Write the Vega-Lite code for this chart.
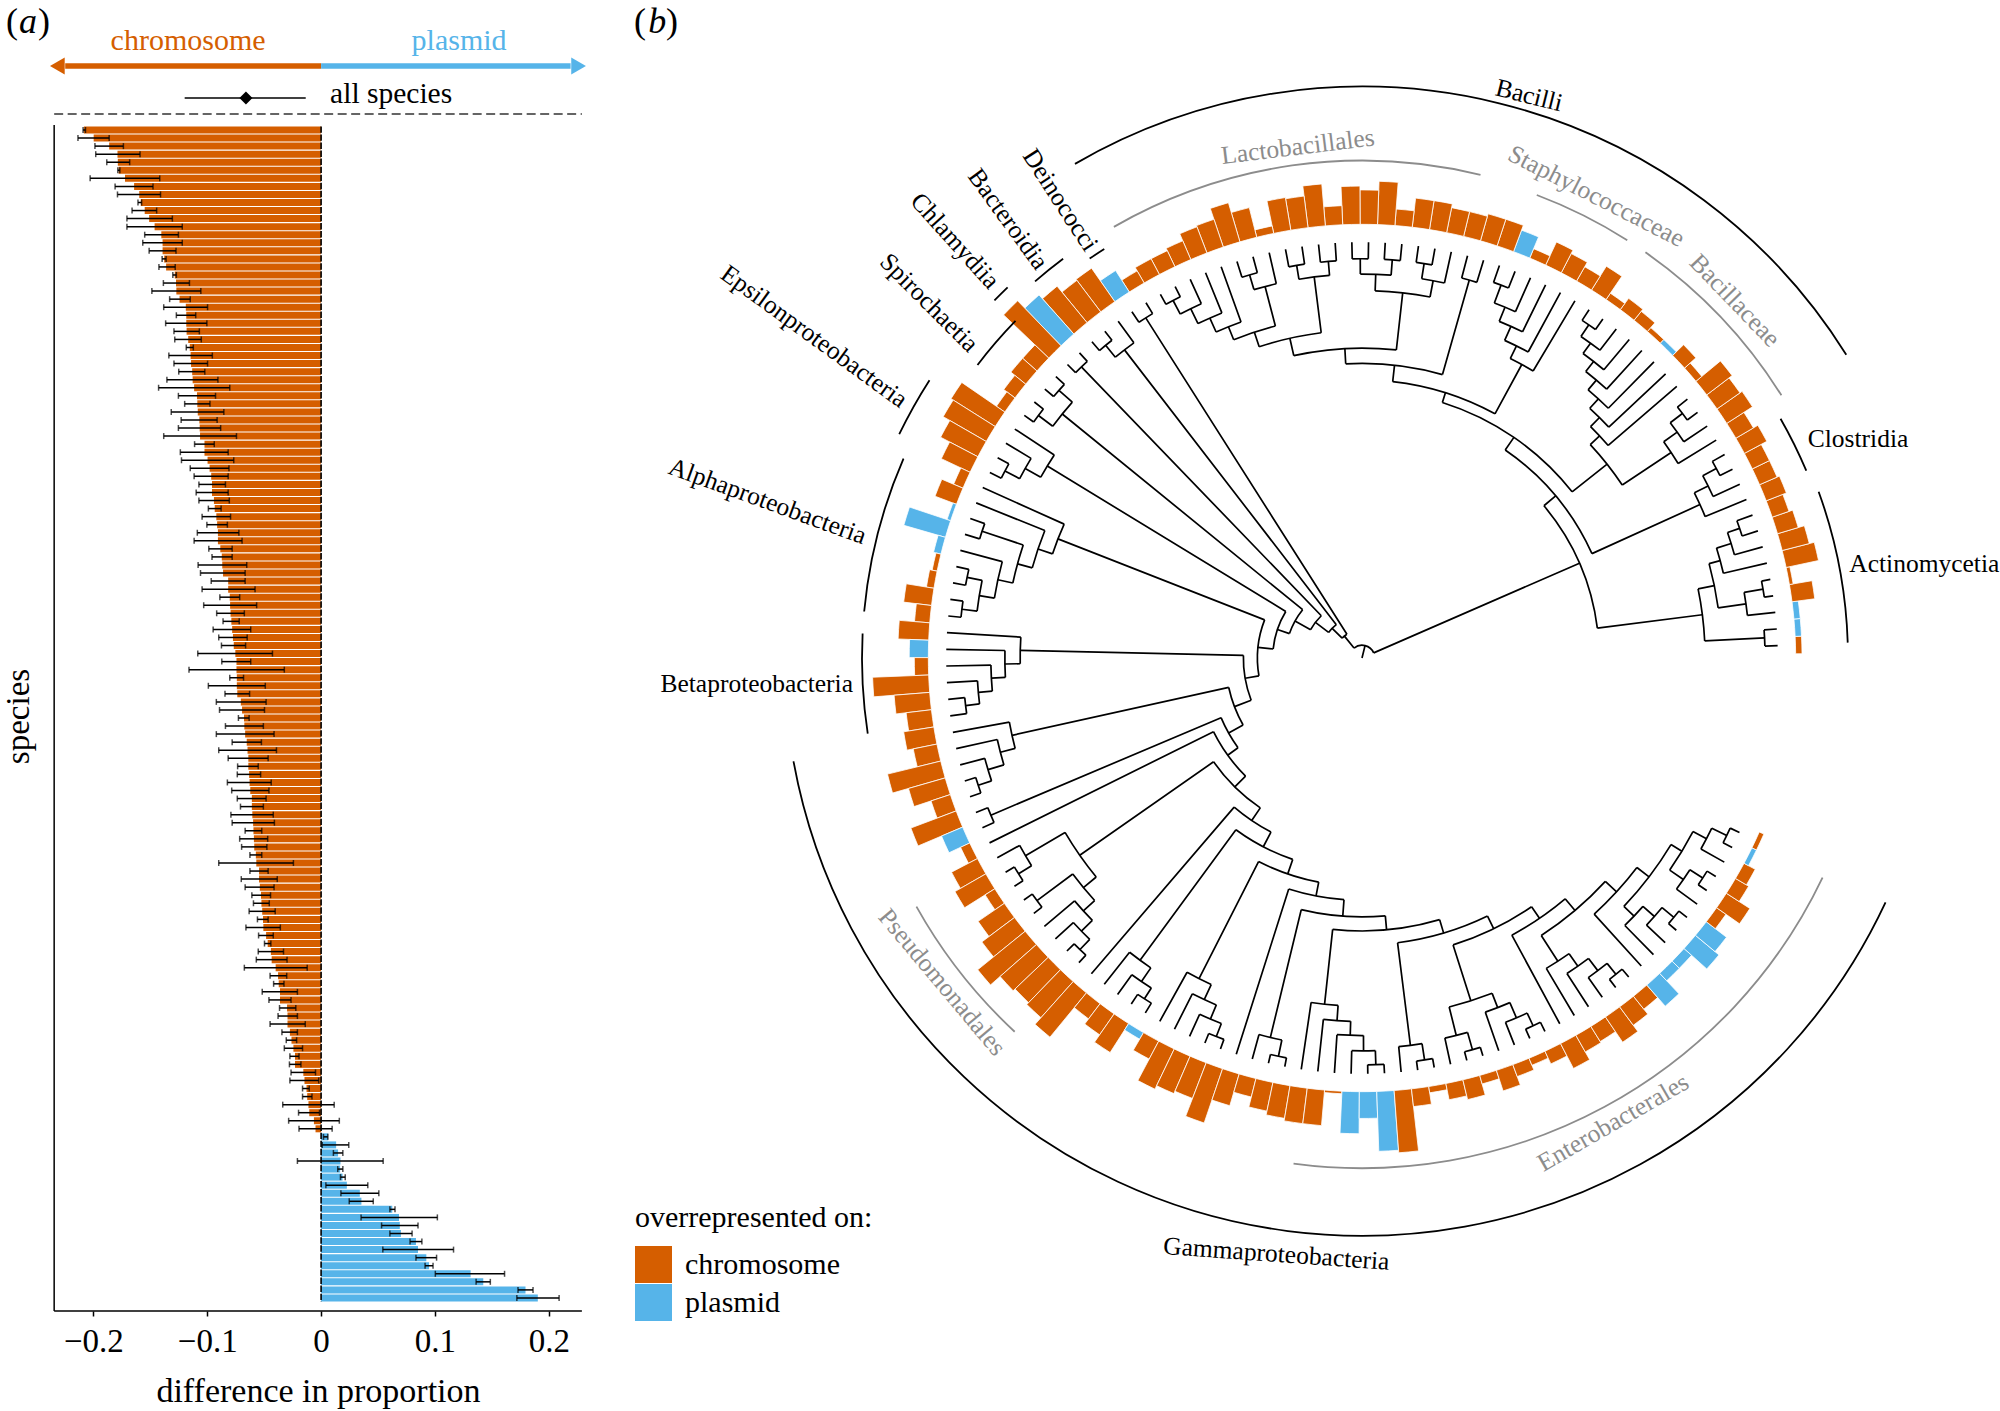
{"$schema":"https://vega.github.io/schema/vega-lite/v6.json","padding":0,"background":"white","bounds":"flush","spacing":18,"config":{"view":{"stroke":null},"font":"Liberation Serif","axis":{"grid":false}},"resolve":{"scale":{"color":"independent"}},
"datasets":{
"species":[
{"r":1,"d":-0.2083,"lo":-0.2090,"hi":-0.2069,"c":"chromosome"},{"r":2,"d":-0.1997,"lo":-0.2135,"hi":-0.1861,"c":"chromosome"},{"r":3,"d":-0.1861,"lo":-0.1986,"hi":-0.1736,"c":"chromosome"},{"r":4,"d":-0.1788,"lo":-0.1979,"hi":-0.1590,"c":"chromosome"},{"r":5,"d":-0.1785,"lo":-0.1882,"hi":-0.1681,"c":"chromosome"},{"r":6,"d":-0.1778,"lo":-0.1785,"hi":-0.1767,"c":"chromosome"},{"r":7,"d":-0.1722,"lo":-0.2028,"hi":-0.1417,"c":"chromosome"},{"r":8,"d":-0.1642,"lo":-0.1809,"hi":-0.1476,"c":"chromosome"},{"r":9,"d":-0.1597,"lo":-0.1788,"hi":-0.1410,"c":"chromosome"},{"r":10,"d":-0.1583,"lo":-0.1608,"hi":-0.1576,"c":"chromosome"},
{"r":11,"d":-0.1549,"lo":-0.1660,"hi":-0.1444,"c":"chromosome"},{"r":12,"d":-0.1510,"lo":-0.1705,"hi":-0.1306,"c":"chromosome"},{"r":13,"d":-0.1462,"lo":-0.1705,"hi":-0.1219,"c":"chromosome"},{"r":14,"d":-0.1403,"lo":-0.1549,"hi":-0.1253,"c":"chromosome"},{"r":15,"d":-0.1392,"lo":-0.1566,"hi":-0.1219,"c":"chromosome"},{"r":16,"d":-0.1392,"lo":-0.1510,"hi":-0.1274,"c":"chromosome"},{"r":17,"d":-0.1378,"lo":-0.1396,"hi":-0.1361,"c":"chromosome"},{"r":18,"d":-0.1361,"lo":-0.1424,"hi":-0.1281,"c":"chromosome"},{"r":19,"d":-0.1285,"lo":-0.1302,"hi":-0.1271,"c":"chromosome"},{"r":20,"d":-0.1274,"lo":-0.1385,"hi":-0.1156,"c":"chromosome"},
{"r":21,"d":-0.1271,"lo":-0.1486,"hi":-0.1056,"c":"chromosome"},{"r":22,"d":-0.1243,"lo":-0.1330,"hi":-0.1149,"c":"chromosome"},{"r":23,"d":-0.1188,"lo":-0.1382,"hi":-0.0997,"c":"chromosome"},{"r":24,"d":-0.1184,"lo":-0.1271,"hi":-0.1101,"c":"chromosome"},{"r":25,"d":-0.1184,"lo":-0.1365,"hi":-0.1003,"c":"chromosome"},{"r":26,"d":-0.1181,"lo":-0.1292,"hi":-0.1069,"c":"chromosome"},{"r":27,"d":-0.1167,"lo":-0.1285,"hi":-0.1052,"c":"chromosome"},{"r":28,"d":-0.1153,"lo":-0.1184,"hi":-0.1122,"c":"chromosome"},{"r":29,"d":-0.1146,"lo":-0.1337,"hi":-0.0955,"c":"chromosome"},{"r":30,"d":-0.1142,"lo":-0.1292,"hi":-0.0997,"c":"chromosome"},
{"r":31,"d":-0.1132,"lo":-0.1250,"hi":-0.1021,"c":"chromosome"},{"r":32,"d":-0.1128,"lo":-0.1354,"hi":-0.0906,"c":"chromosome"},{"r":33,"d":-0.1115,"lo":-0.1427,"hi":-0.0802,"c":"chromosome"},{"r":34,"d":-0.1090,"lo":-0.1253,"hi":-0.0927,"c":"chromosome"},{"r":35,"d":-0.1087,"lo":-0.1198,"hi":-0.0976,"c":"chromosome"},{"r":36,"d":-0.1083,"lo":-0.1316,"hi":-0.0854,"c":"chromosome"},{"r":37,"d":-0.1069,"lo":-0.1229,"hi":-0.0913,"c":"chromosome"},{"r":38,"d":-0.1066,"lo":-0.1253,"hi":-0.0882,"c":"chromosome"},{"r":39,"d":-0.1063,"lo":-0.1382,"hi":-0.0743,"c":"chromosome"},{"r":40,"d":-0.1024,"lo":-0.1111,"hi":-0.0938,"c":"chromosome"},
{"r":41,"d":-0.1024,"lo":-0.1236,"hi":-0.0816,"c":"chromosome"},{"r":42,"d":-0.0997,"lo":-0.1226,"hi":-0.0767,"c":"chromosome"},{"r":43,"d":-0.0979,"lo":-0.1149,"hi":-0.0809,"c":"chromosome"},{"r":44,"d":-0.0965,"lo":-0.1115,"hi":-0.0816,"c":"chromosome"},{"r":45,"d":-0.0958,"lo":-0.1073,"hi":-0.0840,"c":"chromosome"},{"r":46,"d":-0.0958,"lo":-0.1097,"hi":-0.0816,"c":"chromosome"},{"r":47,"d":-0.0941,"lo":-0.1073,"hi":-0.0806,"c":"chromosome"},{"r":48,"d":-0.0934,"lo":-0.0990,"hi":-0.0878,"c":"chromosome"},{"r":49,"d":-0.0920,"lo":-0.1045,"hi":-0.0795,"c":"chromosome"},{"r":50,"d":-0.0913,"lo":-0.1003,"hi":-0.0823,"c":"chromosome"},
{"r":51,"d":-0.0906,"lo":-0.1087,"hi":-0.0722,"c":"chromosome"},{"r":52,"d":-0.0906,"lo":-0.1115,"hi":-0.0694,"c":"chromosome"},{"r":53,"d":-0.0885,"lo":-0.0986,"hi":-0.0781,"c":"chromosome"},{"r":54,"d":-0.0872,"lo":-0.0958,"hi":-0.0781,"c":"chromosome"},{"r":55,"d":-0.0868,"lo":-0.1080,"hi":-0.0653,"c":"chromosome"},{"r":56,"d":-0.0861,"lo":-0.1059,"hi":-0.0667,"c":"chromosome"},{"r":57,"d":-0.0816,"lo":-0.0965,"hi":-0.0667,"c":"chromosome"},{"r":58,"d":-0.0816,"lo":-0.1045,"hi":-0.0580,"c":"chromosome"},{"r":59,"d":-0.0802,"lo":-0.0889,"hi":-0.0715,"c":"chromosome"},{"r":60,"d":-0.0799,"lo":-0.1031,"hi":-0.0566,"c":"chromosome"},
{"r":61,"d":-0.0795,"lo":-0.0917,"hi":-0.0674,"c":"chromosome"},{"r":62,"d":-0.0788,"lo":-0.0861,"hi":-0.0719,"c":"chromosome"},{"r":63,"d":-0.0781,"lo":-0.0948,"hi":-0.0618,"c":"chromosome"},{"r":64,"d":-0.0774,"lo":-0.0899,"hi":-0.0649,"c":"chromosome"},{"r":65,"d":-0.0767,"lo":-0.0875,"hi":-0.0663,"c":"chromosome"},{"r":66,"d":-0.0753,"lo":-0.1083,"hi":-0.0427,"c":"chromosome"},{"r":67,"d":-0.0743,"lo":-0.0872,"hi":-0.0618,"c":"chromosome"},{"r":68,"d":-0.0743,"lo":-0.1160,"hi":-0.0323,"c":"chromosome"},{"r":69,"d":-0.0740,"lo":-0.0802,"hi":-0.0681,"c":"chromosome"},{"r":70,"d":-0.0740,"lo":-0.0990,"hi":-0.0490,"c":"chromosome"},
{"r":71,"d":-0.0736,"lo":-0.0844,"hi":-0.0628,"c":"chromosome"},{"r":72,"d":-0.0705,"lo":-0.0920,"hi":-0.0483,"c":"chromosome"},{"r":73,"d":-0.0694,"lo":-0.0892,"hi":-0.0497,"c":"chromosome"},{"r":74,"d":-0.0677,"lo":-0.0726,"hi":-0.0632,"c":"chromosome"},{"r":75,"d":-0.0674,"lo":-0.0840,"hi":-0.0507,"c":"chromosome"},{"r":76,"d":-0.0667,"lo":-0.0920,"hi":-0.0413,"c":"chromosome"},{"r":77,"d":-0.0653,"lo":-0.0781,"hi":-0.0524,"c":"chromosome"},{"r":78,"d":-0.0646,"lo":-0.0899,"hi":-0.0392,"c":"chromosome"},{"r":79,"d":-0.0639,"lo":-0.0816,"hi":-0.0465,"c":"chromosome"},{"r":80,"d":-0.0639,"lo":-0.0733,"hi":-0.0552,"c":"chromosome"},
{"r":81,"d":-0.0632,"lo":-0.0736,"hi":-0.0531,"c":"chromosome"},{"r":82,"d":-0.0628,"lo":-0.0823,"hi":-0.0438,"c":"chromosome"},{"r":83,"d":-0.0622,"lo":-0.0785,"hi":-0.0458,"c":"chromosome"},{"r":84,"d":-0.0608,"lo":-0.0736,"hi":-0.0483,"c":"chromosome"},{"r":85,"d":-0.0608,"lo":-0.0708,"hi":-0.0507,"c":"chromosome"},{"r":86,"d":-0.0604,"lo":-0.0792,"hi":-0.0420,"c":"chromosome"},{"r":87,"d":-0.0597,"lo":-0.0781,"hi":-0.0410,"c":"chromosome"},{"r":88,"d":-0.0594,"lo":-0.0667,"hi":-0.0521,"c":"chromosome"},{"r":89,"d":-0.0590,"lo":-0.0715,"hi":-0.0469,"c":"chromosome"},{"r":90,"d":-0.0587,"lo":-0.0698,"hi":-0.0476,"c":"chromosome"},
{"r":91,"d":-0.0573,"lo":-0.0625,"hi":-0.0521,"c":"chromosome"},{"r":92,"d":-0.0569,"lo":-0.0899,"hi":-0.0243,"c":"chromosome"},{"r":93,"d":-0.0545,"lo":-0.0625,"hi":-0.0465,"c":"chromosome"},{"r":94,"d":-0.0545,"lo":-0.0701,"hi":-0.0385,"c":"chromosome"},{"r":95,"d":-0.0538,"lo":-0.0667,"hi":-0.0413,"c":"chromosome"},{"r":96,"d":-0.0528,"lo":-0.0608,"hi":-0.0444,"c":"chromosome"},{"r":97,"d":-0.0524,"lo":-0.0594,"hi":-0.0455,"c":"chromosome"},{"r":98,"d":-0.0517,"lo":-0.0632,"hi":-0.0403,"c":"chromosome"},{"r":99,"d":-0.0510,"lo":-0.0559,"hi":-0.0465,"c":"chromosome"},{"r":100,"d":-0.0507,"lo":-0.0660,"hi":-0.0358,"c":"chromosome"},
{"r":101,"d":-0.0483,"lo":-0.0549,"hi":-0.0420,"c":"chromosome"},{"r":102,"d":-0.0469,"lo":-0.0497,"hi":-0.0441,"c":"chromosome"},{"r":103,"d":-0.0441,"lo":-0.0552,"hi":-0.0330,"c":"chromosome"},{"r":104,"d":-0.0434,"lo":-0.0569,"hi":-0.0299,"c":"chromosome"},{"r":105,"d":-0.0399,"lo":-0.0674,"hi":-0.0122,"c":"chromosome"},{"r":106,"d":-0.0378,"lo":-0.0448,"hi":-0.0302,"c":"chromosome"},{"r":107,"d":-0.0372,"lo":-0.0417,"hi":-0.0326,"c":"chromosome"},{"r":108,"d":-0.0361,"lo":-0.0517,"hi":-0.0208,"c":"chromosome"},{"r":109,"d":-0.0361,"lo":-0.0458,"hi":-0.0264,"c":"chromosome"},{"r":110,"d":-0.0299,"lo":-0.0365,"hi":-0.0222,"c":"chromosome"},
{"r":111,"d":-0.0295,"lo":-0.0378,"hi":-0.0208,"c":"chromosome"},{"r":112,"d":-0.0295,"lo":-0.0448,"hi":-0.0139,"c":"chromosome"},{"r":113,"d":-0.0274,"lo":-0.0344,"hi":-0.0208,"c":"chromosome"},{"r":114,"d":-0.0260,"lo":-0.0306,"hi":-0.0215,"c":"chromosome"},{"r":115,"d":-0.0243,"lo":-0.0323,"hi":-0.0163,"c":"chromosome"},{"r":116,"d":-0.0229,"lo":-0.0274,"hi":-0.0194,"c":"chromosome"},{"r":117,"d":-0.0229,"lo":-0.0278,"hi":-0.0177,"c":"chromosome"},{"r":118,"d":-0.0156,"lo":-0.0264,"hi":-0.0049,"c":"chromosome"},{"r":119,"d":-0.0146,"lo":-0.0274,"hi":-0.0021,"c":"chromosome"},{"r":120,"d":-0.0128,"lo":-0.0163,"hi":-0.0104,"c":"chromosome"},
{"r":121,"d":-0.0122,"lo":-0.0163,"hi":-0.0080,"c":"chromosome"},{"r":122,"d":-0.0111,"lo":-0.0337,"hi":0.0115,"c":"chromosome"},{"r":123,"d":-0.0104,"lo":-0.0198,"hi":-0.0014,"c":"chromosome"},{"r":124,"d":-0.0063,"lo":-0.0285,"hi":0.0160,"c":"chromosome"},{"r":125,"d":-0.0049,"lo":-0.0194,"hi":0.0097,"c":"chromosome"},
{"r":126,"d":0.0063,"lo":0.0021,"hi":0.0059,"c":"plasmid"},{"r":127,"d":0.0132,"lo":0.0010,"hi":0.0243,"c":"plasmid"},{"r":128,"d":0.0149,"lo":0.0108,"hi":0.0191,"c":"plasmid"},{"r":129,"d":0.0170,"lo":-0.0208,"hi":0.0545,"c":"plasmid"},{"r":130,"d":0.0167,"lo":0.0146,"hi":0.0191,"c":"plasmid"},{"r":131,"d":0.0188,"lo":0.0170,"hi":0.0212,"c":"plasmid"},{"r":132,"d":0.0226,"lo":0.0042,"hi":0.0410,"c":"plasmid"},{"r":133,"d":0.0340,"lo":0.0174,"hi":0.0507,"c":"plasmid"},{"r":134,"d":0.0354,"lo":0.0247,"hi":0.0458,"c":"plasmid"},{"r":135,"d":0.0625,"lo":0.0604,"hi":0.0649,"c":"plasmid"},
{"r":136,"d":0.0684,"lo":0.0351,"hi":0.1021,"c":"plasmid"},{"r":137,"d":0.0691,"lo":0.0531,"hi":0.0851,"c":"plasmid"},{"r":138,"d":0.0701,"lo":0.0604,"hi":0.0799,"c":"plasmid"},{"r":139,"d":0.0833,"lo":0.0781,"hi":0.0885,"c":"plasmid"},{"r":140,"d":0.0851,"lo":0.0542,"hi":0.1163,"c":"plasmid"},{"r":141,"d":0.0924,"lo":0.0833,"hi":0.1014,"c":"plasmid"},{"r":142,"d":0.0948,"lo":0.0913,"hi":0.0983,"c":"plasmid"},{"r":143,"d":0.1313,"lo":0.1003,"hi":0.1611,"c":"plasmid"},{"r":144,"d":0.1424,"lo":0.1361,"hi":0.1486,"c":"plasmid"},{"r":145,"d":0.1795,"lo":0.1729,"hi":0.1861,"c":"plasmid"},{"r":146,"d":0.1903,"lo":0.1719,"hi":0.2090,"c":"plasmid"}
],
"tips":[
{"a":0.5,"b":1.5,"o":345,"c":"chromosome"},{"a":1.5,"b":2.5,"o":345,"c":"plasmid"},{"a":2.5,"b":3.5,"o":345,"c":"plasmid"},{"a":3.5,"b":4.5,"o":358,"c":"chromosome"},{"a":4.5,"b":5.5,"o":343,"c":"chromosome"},{"a":5.5,"b":6.5,"o":366,"c":"chromosome"},{"a":6.5,"b":7.5,"o":362,"c":"chromosome"},{"a":7.5,"b":8.5,"o":357,"c":"chromosome"},{"a":8.5,"b":9.5,"o":354,"c":"chromosome"},{"a":9.5,"b":10.5,"o":357,"c":"chromosome"},
{"a":10.5,"b":11.5,"o":355,"c":"chromosome"},{"a":11.5,"b":12.5,"o":355,"c":"chromosome"},{"a":12.5,"b":13.5,"o":360,"c":"chromosome"},{"a":13.5,"b":14.5,"o":356,"c":"chromosome"},{"a":14.5,"b":15.5,"o":364,"c":"chromosome"},{"a":15.5,"b":16.5,"o":362,"c":"chromosome"},{"a":16.5,"b":17.5,"o":365,"c":"chromosome"},{"a":17.5,"b":18.5,"o":346,"c":"chromosome"},{"a":18.5,"b":19.5,"o":352,"c":"chromosome"},{"a":19.5,"b":20.5,"o":344,"c":"plasmid"},
{"a":20.5,"b":21.5,"o":344,"c":"chromosome"},{"a":21.5,"b":22.5,"o":349,"c":"chromosome"},{"a":22.5,"b":23.5,"o":351,"c":"chromosome"},{"a":23.5,"b":24.5,"o":346,"c":"chromosome"},{"a":24.5,"b":25.5,"o":362,"c":"chromosome"},{"a":25.5,"b":26.5,"o":353,"c":"chromosome"},{"a":26.5,"b":27.5,"o":357,"c":"chromosome"},{"a":27.5,"b":28.5,"o":360,"c":"chromosome"},{"a":28.5,"b":29.5,"o":348,"c":"chromosome"},{"a":29.5,"b":30.5,"o":358,"c":"plasmid"},
{"a":30.5,"b":31.5,"o":362,"c":"chromosome"},{"a":31.5,"b":32.5,"o":362,"c":"chromosome"},{"a":32.5,"b":33.5,"o":360,"c":"chromosome"},{"a":33.5,"b":34.5,"o":360,"c":"chromosome"},{"a":34.5,"b":35.5,"o":363,"c":"chromosome"},{"a":35.5,"b":36.5,"o":363,"c":"chromosome"},{"a":36.5,"b":37.5,"o":353,"c":"chromosome"},{"a":37.5,"b":38.5,"o":374,"c":"chromosome"},{"a":38.5,"b":39.5,"o":367,"c":"chromosome"},{"a":39.5,"b":40.5,"o":370,"c":"chromosome"},
{"a":40.5,"b":41.5,"o":355,"c":"chromosome"},{"a":41.5,"b":42.5,"o":373,"c":"chromosome"},{"a":42.5,"b":43.5,"o":365,"c":"chromosome"},{"a":43.5,"b":44.5,"o":366,"c":"chromosome"},{"a":44.5,"b":45.5,"o":346,"c":"chromosome"},{"a":45.5,"b":46.5,"o":364,"c":"chromosome"},{"a":46.5,"b":47.5,"o":372,"c":"chromosome"},{"a":47.5,"b":48.5,"o":363,"c":"chromosome"},{"a":48.5,"b":49.5,"o":362,"c":"chromosome"},{"a":49.5,"b":50.5,"o":356,"c":"chromosome"},
{"a":50.5,"b":51.5,"o":354,"c":"chromosome"},{"a":51.5,"b":52.5,"o":354,"c":"chromosome"},{"a":52.5,"b":53.5,"o":351,"c":"chromosome"},{"a":53.5,"b":54.5,"o":360,"c":"plasmid"},{"a":54.5,"b":55.5,"o":372,"c":"chromosome"},{"a":55.5,"b":56.5,"o":371,"c":"chromosome"},{"a":56.5,"b":57.5,"o":377,"c":"chromosome"},{"a":57.5,"b":58.5,"o":381,"c":"plasmid"},{"a":58.5,"b":59.5,"o":389,"c":"chromosome"},{"a":59.5,"b":60.5,"o":355,"c":"chromosome"},
{"a":60.5,"b":61.5,"o":355,"c":"chromosome"},{"a":61.5,"b":62.5,"o":351,"c":"chromosome"},{"a":62.5,"b":63.5,"o":348,"c":"chromosome"},{"a":63.5,"b":64.5,"o":381,"c":"chromosome"},{"a":64.5,"b":65.5,"o":379,"c":"chromosome"},{"a":65.5,"b":66.5,"o":373,"c":"chromosome"},{"a":66.5,"b":67.5,"o":365,"c":"chromosome"},{"a":67.5,"b":68.5,"o":348,"c":"chromosome"},{"a":68.5,"b":69.5,"o":358,"c":"chromosome"},{"a":69.5,"b":70.5,"o":343,"c":"plasmid"},
{"a":70.5,"b":71.5,"o":374,"c":"plasmid"},{"a":71.5,"b":72.5,"o":346,"c":"plasmid"},{"a":72.5,"b":73.5,"o":344,"c":"chromosome"},{"a":73.5,"b":74.5,"o":346,"c":"chromosome"},{"a":74.5,"b":75.5,"o":362,"c":"chromosome"},{"a":75.5,"b":76.5,"o":352,"c":"chromosome"},{"a":76.5,"b":77.5,"o":364,"c":"chromosome"},{"a":77.5,"b":78.5,"o":355,"c":"plasmid"},{"a":78.5,"b":79.5,"o":351,"c":"chromosome"},{"a":79.5,"b":80.5,"o":384,"c":"chromosome"},
{"a":80.5,"b":81.5,"o":368,"c":"chromosome"},{"a":81.5,"b":82.5,"o":360,"c":"chromosome"},{"a":82.5,"b":83.5,"o":364,"c":"chromosome"},{"a":83.5,"b":84.5,"o":359,"c":"chromosome"},{"a":84.5,"b":85.5,"o":383,"c":"chromosome"},{"a":85.5,"b":86.5,"o":370,"c":"chromosome"},{"a":86.5,"b":87.5,"o":356,"c":"chromosome"},{"a":87.5,"b":88.5,"o":378,"c":"chromosome"},{"a":88.5,"b":89.5,"o":358,"c":"plasmid"},{"a":89.5,"b":90.5,"o":348,"c":"chromosome"},
{"a":90.5,"b":91.5,"o":363,"c":"chromosome"},{"a":91.5,"b":92.5,"o":368,"c":"chromosome"},{"a":92.5,"b":93.5,"o":349,"c":"chromosome"},{"a":93.5,"b":94.5,"o":365,"c":"chromosome"},{"a":94.5,"b":95.5,"o":372,"c":"chromosome"},{"a":95.5,"b":96.5,"o":388,"c":"chromosome"},{"a":96.5,"b":97.5,"o":378,"c":"chromosome"},{"a":97.5,"b":98.5,"o":376,"c":"chromosome"},{"a":98.5,"b":99.5,"o":378,"c":"chromosome"},{"a":99.5,"b":100.5,"o":385,"c":"chromosome"},
{"a":100.5,"b":101.5,"o":355,"c":"chromosome"},{"a":101.5,"b":102.5,"o":360,"c":"chromosome"},{"a":102.5,"b":103.5,"o":367,"c":"chromosome"},{"a":103.5,"b":104.5,"o":346,"c":"plasmid"},{"a":104.5,"b":105.5,"o":356,"c":"chromosome"},{"a":105.5,"b":106.5,"o":375,"c":"chromosome"},{"a":106.5,"b":107.5,"o":372,"c":"chromosome"},{"a":107.5,"b":108.5,"o":370,"c":"chromosome"},{"a":108.5,"b":109.5,"o":385,"c":"chromosome"},{"a":109.5,"b":110.5,"o":366,"c":"chromosome"},
{"a":110.5,"b":111.5,"o":355,"c":"chromosome"},{"a":111.5,"b":112.5,"o":363,"c":"chromosome"},{"a":112.5,"b":113.5,"o":366,"c":"chromosome"},{"a":113.5,"b":114.5,"o":368,"c":"chromosome"},{"a":114.5,"b":115.5,"o":368,"c":"chromosome"},{"a":115.5,"b":116.5,"o":342,"c":"chromosome"},{"a":116.5,"b":117.5,"o":373,"c":"plasmid"},{"a":117.5,"b":118.5,"o":361,"c":"plasmid"},{"a":118.5,"b":119.5,"o":387,"c":"plasmid"},{"a":119.5,"b":120.5,"o":389,"c":"chromosome"},
{"a":120.5,"b":121.5,"o":354,"c":"chromosome"},{"a":121.5,"b":122.5,"o":345,"c":"chromosome"},{"a":122.5,"b":123.5,"o":353,"c":"chromosome"},{"a":123.5,"b":124.5,"o":356,"c":"chromosome"},{"a":124.5,"b":125.5,"o":347,"c":"chromosome"},{"a":125.5,"b":126.5,"o":357,"c":"chromosome"},{"a":126.5,"b":127.5,"o":350,"c":"chromosome"},{"a":127.5,"b":128.5,"o":346,"c":"chromosome"},{"a":128.5,"b":129.5,"o":351,"c":"chromosome"},{"a":129.5,"b":130.5,"o":362,"c":"chromosome"},
{"a":130.5,"b":131.5,"o":355,"c":"chromosome"},{"a":131.5,"b":132.5,"o":354,"c":"chromosome"},{"a":132.5,"b":133.5,"o":364,"c":"chromosome"},{"a":133.5,"b":134.5,"o":358,"c":"chromosome"},{"a":134.5,"b":135.5,"o":353,"c":"chromosome"},{"a":135.5,"b":136.5,"o":362,"c":"plasmid"},{"a":136.5,"b":137.5,"o":348,"c":"plasmid"},{"a":137.5,"b":138.5,"o":348,"c":"plasmid"},{"a":138.5,"b":139.5,"o":364,"c":"plasmid"},{"a":139.5,"b":140.5,"o":360,"c":"plasmid"},
{"a":140.5,"b":141.5,"o":349,"c":"chromosome"},{"a":141.5,"b":142.5,"o":362,"c":"chromosome"},{"a":142.5,"b":143.5,"o":352,"c":"chromosome"},{"a":143.5,"b":144.5,"o":350,"c":"chromosome"},{"a":144.5,"b":145.5,"o":344,"c":"plasmid"},{"a":145.5,"b":146.5,"o":344,"c":"chromosome"}
],
"tree":[
{"n":1,"r":326,"p":316},{"n":2,"r":326,"p":316},{"n":3,"r":326,"p":304},{"n":4,"r":326,"p":319},{"n":5,"r":326,"p":319},{"n":6,"r":326,"p":291},{"n":7,"r":326,"p":303},{"n":8,"r":326,"p":313},{"n":9,"r":326,"p":313},{"n":10,"r":326,"p":291},{"n":11,"r":326,"p":303},{"n":12,"r":326,"p":315},{"n":13,"r":326,"p":315},{"n":14,"r":326,"p":291},{"n":15,"r":326,"p":304},{"n":16,"r":326,"p":316},{"n":17,"r":326,"p":316},{"n":18,"r":326,"p":255},{"n":19,"r":326,"p":265},{"n":20,"r":326,"p":275},{"n":21,"r":326,"p":285},{"n":22,"r":326,"p":295},{"n":23,"r":326,"p":305},{"n":24,"r":326,"p":316},{"n":25,"r":326,"p":316},{"n":26,"r":326,"p":262},{"n":27,"r":326,"p":273},{"n":28,"r":326,"p":285},{"n":29,"r":326,"p":297},{"n":30,"r":326,"p":312},{"n":31,"r":326,"p":312},{"n":32,"r":326,"p":308},{"n":33,"r":326,"p":308},{"n":34,"r":326,"p":301},{"n":35,"r":326,"p":313},{"n":36,"r":326,"p":313},{"n":37,"r":326,"p":313},{"n":38,"r":326,"p":313},{"n":39,"r":326,"p":313},{"n":40,"r":326,"p":313},{"n":41,"r":326,"p":312},{"n":42,"r":326,"p":312},{"n":43,"r":326,"p":312},{"n":44,"r":326,"p":312},{"n":45,"r":326,"p":301},{"n":46,"r":326,"p":313},{"n":47,"r":326,"p":313},{"n":48,"r":326,"p":280},{"n":49,"r":326,"p":292},{"n":50,"r":326,"p":305},{"n":51,"r":326,"p":317},{"n":52,"r":326,"p":317},{"n":53,"r":326,"p":316},{"n":54,"r":326,"p":316},{"n":55,"r":326,"p":305},{"n":56,"r":326,"p":317},{"n":57,"r":326,"p":317},{"n":58,"r":326,"p":317},{"n":59,"r":326,"p":317},{"n":60,"r":326,"p":317},{"n":61,"r":326,"p":317},{"n":62,"r":326,"p":317},{"n":63,"r":326,"p":317},{"n":64,"r":326,"p":289},{"n":65,"r":326,"p":303},{"n":66,"r":326,"p":316},{"n":67,"r":326,"p":316},{"n":68,"r":326,"p":256},{"n":69,"r":326,"p":268},{"n":70,"r":326,"p":314},{"n":71,"r":326,"p":314},{"n":72,"r":326,"p":292},{"n":73,"r":326,"p":316},{"n":74,"r":326,"p":316},{"n":75,"r":326,"p":316},{"n":76,"r":326,"p":316},{"n":77,"r":326,"p":268},{"n":78,"r":326,"p":280},{"n":79,"r":326,"p":291},{"n":80,"r":326,"p":302},{"n":81,"r":326,"p":313},{"n":82,"r":326,"p":313},{"n":83,"r":326,"p":281},{"n":84,"r":326,"p":293},{"n":85,"r":326,"p":306},{"n":86,"r":326,"p":317},{"n":87,"r":326,"p":317},{"n":88,"r":326,"p":316},{"n":89,"r":326,"p":316},{"n":90,"r":326,"p":130},{"n":91,"r":326,"p":306},{"n":92,"r":326,"p":318},{"n":93,"r":326,"p":318},{"n":94,"r":326,"p":318},{"n":95,"r":326,"p":318},{"n":96,"r":326,"p":295},{"n":97,"r":326,"p":307},{"n":98,"r":326,"p":318},{"n":99,"r":326,"p":318},{"n":100,"r":326,"p":154},{"n":101,"r":326,"p":294},{"n":102,"r":326,"p":307},{"n":103,"r":326,"p":317},{"n":104,"r":326,"p":317},{"n":105,"r":326,"p":282},{"n":106,"r":326,"p":295},{"n":107,"r":326,"p":307},{"n":108,"r":326,"p":318},{"n":109,"r":326,"p":318},{"n":110,"r":326,"p":190},{"n":111,"r":326,"p":306},{"n":112,"r":326,"p":319},{"n":113,"r":326,"p":319},{"n":114,"r":326,"p":273},{"n":115,"r":326,"p":285},{"n":116,"r":326,"p":296},{"n":117,"r":326,"p":308},{"n":118,"r":326,"p":319},{"n":119,"r":326,"p":319},{"n":120,"r":326,"p":306},{"n":121,"r":326,"p":319},{"n":122,"r":326,"p":319},{"n":123,"r":326,"p":305},{"n":124,"r":326,"p":319},{"n":125,"r":326,"p":319},{"n":126,"r":326,"p":294},{"n":127,"r":326,"p":307},{"n":128,"r":326,"p":318},{"n":129,"r":326,"p":318},{"n":130,"r":326,"p":247},{"n":131,"r":326,"p":283},{"n":132,"r":326,"p":295},{"n":133,"r":326,"p":307},{"n":134,"r":326,"p":318},{"n":135,"r":326,"p":318},{"n":136,"r":326,"p":271},{"n":137,"r":326,"p":294},{"n":138,"r":326,"p":306},{"n":139,"r":326,"p":318},{"n":140,"r":326,"p":318},{"n":141,"r":326,"p":306},{"n":142,"r":326,"p":318},{"n":143,"r":326,"p":318},{"n":144,"r":326,"p":305},{"n":145,"r":326,"p":318},{"n":146,"r":326,"p":318},
{"n":8.5,"a":8,"b":9,"r":313,"p":303},{"n":7.75,"a":7,"b":8.5,"r":303,"p":291},{"n":6.875,"a":6,"b":7.75,"r":291,"p":282},{"n":4.5,"a":4,"b":5,"r":319,"p":304},{"n":3.75,"a":3,"b":4.5,"r":304,"p":282},{"n":5.31,"a":3.75,"b":6.875,"r":282,"p":269},{"n":1.5,"a":1,"b":2,"r":316,"p":269},{"n":3.41,"a":1.5,"b":5.31,"r":269,"p":186},
{"n":12.5,"a":12,"b":13,"r":315,"p":303},{"n":11.75,"a":11,"b":12.5,"r":303,"p":291},{"n":10.875,"a":10,"b":11.75,"r":291,"p":198},
{"n":16.5,"a":16,"b":17,"r":316,"p":304},{"n":15.75,"a":15,"b":16.5,"r":304,"p":291},{"n":14.875,"a":14,"b":15.75,"r":291,"p":245},
{"n":24.5,"a":24,"b":25,"r":316,"p":305},{"n":23.75,"a":23,"b":24.5,"r":305,"p":295},{"n":22.875,"a":22,"b":23.75,"r":295,"p":285},{"n":21.94,"a":21,"b":22.875,"r":285,"p":275},{"n":20.97,"a":20,"b":21.94,"r":275,"p":265},{"n":19.98,"a":19,"b":20.97,"r":265,"p":255},{"n":18.99,"a":18,"b":19.98,"r":255,"p":245},{"n":16.93,"a":14.875,"b":18.99,"r":245,"p":210},
{"n":30.5,"a":30,"b":31,"r":312,"p":297},{"n":29.75,"a":29,"b":30.5,"r":297,"p":285},{"n":28.875,"a":28,"b":29.75,"r":285,"p":273},{"n":27.94,"a":27,"b":28.875,"r":273,"p":262},{"n":26.97,"a":26,"b":27.94,"r":262,"p":218},
{"n":32.5,"a":32,"b":33,"r":308,"p":231},{"n":35.5,"a":35,"b":36,"r":313,"p":301},{"n":34.75,"a":34,"b":35.5,"r":301,"p":288},{"n":37.5,"a":37,"b":38,"r":313,"p":301},{"n":39.5,"a":39,"b":40,"r":313,"p":301},{"n":38.5,"a":37.5,"b":39.5,"r":301,"p":288},{"n":36.625,"a":34.75,"b":38.5,"r":288,"p":243},
{"n":41.5,"a":41,"b":42,"r":312,"p":301},{"n":43.5,"a":43,"b":44,"r":312,"p":301},{"n":42.5,"a":41.5,"b":43.5,"r":301,"p":257},{"n":46.5,"a":46,"b":47,"r":313,"p":301},{"n":45.75,"a":45,"b":46.5,"r":301,"p":269},{"n":51.5,"a":51,"b":52,"r":317,"p":305},{"n":50.75,"a":50,"b":51.5,"r":305,"p":292},{"n":49.875,"a":49,"b":50.75,"r":292,"p":280},{"n":48.94,"a":48,"b":49.875,"r":280,"p":269},{"n":47.34,"a":45.75,"b":48.94,"r":269,"p":257},{"n":44.92,"a":42.5,"b":47.34,"r":257,"p":243},{"n":40.77,"a":36.625,"b":44.92,"r":243,"p":231},{"n":36.635,"a":32.5,"b":40.77,"r":231,"p":218},{"n":31.8,"a":26.97,"b":36.635,"r":218,"p":210},{"n":24.37,"a":16.93,"b":31.8,"r":210,"p":198},{"n":17.62,"a":10.875,"b":24.37,"r":198,"p":186},{"n":10.5,"a":3.41,"b":17.62,"r":186,"p":10},
{"n":53.5,"a":53,"b":54,"r":316,"p":22},{"n":56.5,"a":56,"b":57,"r":317,"p":305},{"n":55.75,"a":55,"b":56.5,"r":305,"p":33},{"n":58.5,"a":58,"b":59,"r":317,"p":46},{"n":60.5,"a":60,"b":61,"r":317,"p":303},{"n":62.5,"a":62,"b":63,"r":317,"p":303},{"n":61.5,"a":60.5,"b":62.5,"r":303,"p":60},{"n":66.5,"a":66,"b":67,"r":316,"p":303},{"n":65.75,"a":65,"b":66.5,"r":303,"p":289},{"n":64.875,"a":64,"b":65.75,"r":289,"p":70},
{"n":70.5,"a":70,"b":71,"r":314,"p":280},{"n":73.5,"a":73,"b":74,"r":316,"p":304},{"n":75.5,"a":75,"b":76,"r":316,"p":304},{"n":74.5,"a":73.5,"b":75.5,"r":304,"p":292},{"n":73.25,"a":72,"b":74.5,"r":292,"p":280},{"n":71.875,"a":70.5,"b":73.25,"r":280,"p":268},{"n":70.44,"a":69,"b":71.875,"r":268,"p":256},{"n":69.22,"a":68,"b":70.44,"r":256,"p":82},
{"n":81.5,"a":81,"b":82,"r":313,"p":302},{"n":80.75,"a":80,"b":81.5,"r":302,"p":291},{"n":79.875,"a":79,"b":80.75,"r":291,"p":280},{"n":78.94,"a":78,"b":79.875,"r":280,"p":268},{"n":77.97,"a":77,"b":78.94,"r":268,"p":93},
{"n":86.5,"a":86,"b":87,"r":317,"p":306},{"n":85.75,"a":85,"b":86.5,"r":306,"p":293},{"n":84.875,"a":84,"b":85.75,"r":293,"p":281},{"n":83.94,"a":83,"b":84.875,"r":281,"p":107},{"n":88.5,"a":88,"b":89,"r":316,"p":120},
{"n":92.5,"a":92,"b":93,"r":318,"p":306},{"n":91.75,"a":91,"b":92.5,"r":306,"p":270},{"n":94.5,"a":94,"b":95,"r":318,"p":283},{"n":98.5,"a":98,"b":99,"r":318,"p":307},{"n":97.75,"a":97,"b":98.5,"r":307,"p":295},{"n":96.875,"a":96,"b":97.75,"r":295,"p":283},{"n":95.69,"a":94.5,"b":96.875,"r":283,"p":270},{"n":93.72,"a":91.75,"b":95.69,"r":270,"p":142},
{"n":103.5,"a":103,"b":104,"r":317,"p":307},{"n":102.75,"a":102,"b":103.5,"r":307,"p":294},{"n":101.875,"a":101,"b":102.75,"r":294,"p":167},
{"n":108.5,"a":108,"b":109,"r":318,"p":307},{"n":107.75,"a":107,"b":108.5,"r":307,"p":295},{"n":106.875,"a":106,"b":107.75,"r":295,"p":282},{"n":105.94,"a":105,"b":106.875,"r":282,"p":179},
{"n":112.5,"a":112,"b":113,"r":319,"p":306},{"n":111.75,"a":111,"b":112.5,"r":306,"p":203},
{"n":118.5,"a":118,"b":119,"r":319,"p":308},{"n":117.75,"a":117,"b":118.5,"r":308,"p":296},{"n":116.875,"a":116,"b":117.75,"r":296,"p":285},{"n":115.94,"a":115,"b":116.875,"r":285,"p":273},{"n":114.97,"a":114,"b":115.94,"r":273,"p":214},
{"n":121.5,"a":121,"b":122,"r":319,"p":306},{"n":120.75,"a":120,"b":121.5,"r":306,"p":225},
{"n":124.5,"a":124,"b":125,"r":319,"p":305},{"n":123.75,"a":123,"b":124.5,"r":305,"p":282},{"n":128.5,"a":128,"b":129,"r":318,"p":307},{"n":127.75,"a":127,"b":128.5,"r":307,"p":294},{"n":126.875,"a":126,"b":127.75,"r":294,"p":282},{"n":125.31,"a":123.75,"b":126.875,"r":282,"p":236},
{"n":134.5,"a":134,"b":135,"r":318,"p":307},{"n":133.75,"a":133,"b":134.5,"r":307,"p":295},{"n":132.875,"a":132,"b":133.75,"r":295,"p":283},{"n":131.94,"a":131,"b":132.875,"r":283,"p":259},
{"n":139.5,"a":139,"b":140,"r":318,"p":306},{"n":138.75,"a":138,"b":139.5,"r":306,"p":294},{"n":137.875,"a":137,"b":138.75,"r":294,"p":283},
{"n":142.5,"a":142,"b":143,"r":318,"p":306},{"n":141.75,"a":141,"b":142.5,"r":306,"p":293},{"n":145.5,"a":145,"b":146,"r":318,"p":305},{"n":144.75,"a":144,"b":145.5,"r":305,"p":293},{"n":143.25,"a":141.75,"b":144.75,"r":293,"p":283},{"n":140.56,"a":137.875,"b":143.25,"r":283,"p":271},{"n":138.28,"a":136,"b":140.56,"r":271,"p":259},{"n":135.11,"a":131.94,"b":138.28,"r":259,"p":247},{"n":132.56,"a":130,"b":135.11,"r":247,"p":236},{"n":128.93,"a":125.31,"b":132.56,"r":236,"p":225},{"n":124.84,"a":120.75,"b":128.93,"r":225,"p":214},{"n":119.9,"a":114.97,"b":124.84,"r":214,"p":203},{"n":115.8,"a":111.75,"b":119.9,"r":203,"p":190},{"n":112.9,"a":110,"b":115.8,"r":190,"p":179},{"n":109.4,"a":105.94,"b":112.9,"r":179,"p":167},{"n":105.65,"a":101.875,"b":109.4,"r":167,"p":154},{"n":102.8,"a":100,"b":105.65,"r":154,"p":142},{"n":98.26,"a":93.72,"b":102.8,"r":142,"p":130},{"n":94.13,"a":90,"b":98.26,"r":130,"p":120},{"n":91.3,"a":88.5,"b":94.13,"r":120,"p":107},{"n":87.6,"a":83.94,"b":91.3,"r":107,"p":93},{"n":82.8,"a":77.97,"b":87.6,"r":93,"p":82},{"n":76,"a":69.22,"b":82.8,"r":82,"p":70},{"n":70.44,"a":64.875,"b":76,"r":70,"p":60},{"n":65.97,"a":61.5,"b":70.44,"r":60,"p":46},{"n":62.23,"a":58.5,"b":65.97,"r":46,"p":33},{"n":59,"a":55.75,"b":62.23,"r":33,"p":22},{"n":56.25,"a":53.5,"b":59,"r":22,"p":10},{"n":33.4,"a":10.5,"b":56.25,"r":10,"p":0}
],
"clades":[
{"a":14.2,"b":52.5,"r":448,"level":"class"},{"a":10.2,"b":13.2,"r":378,"level":"class"},{"a":1.05,"b":8.96,"r":381,"level":"class"},{"a":53.4,"b":54.3,"r":379,"level":"class"},{"a":55.4,"b":57.2,"r":391,"level":"class"},{"a":58.4,"b":59.3,"r":402,"level":"class"},{"a":59.3,"b":62.3,"r":379,"level":"class"},{"a":64.3,"b":67.3,"r":403,"level":"class"},{"a":68.3,"b":76.2,"r":392,"level":"class"},{"a":77.3,"b":82.3,"r":392,"level":"class"},{"a":83,"b":145.9,"r":453,"level":"class"},
{"a":33.4,"b":52.4,"r":390,"level":"order"},{"a":25.3,"b":30.4,"r":388,"level":"order"},{"a":14.2,"b":24.2,"r":388,"level":"order"},{"a":91.2,"b":99,"r":400,"level":"order"},{"a":114.3,"b":145.7,"r":400,"level":"order"}
],
"labels":[
{"label":"Bacilli","t":32.2,"r":460,"rot":14,"level":"class"},{"label":"Lactobacillales","t":42.5,"r":404,"rot":-7,"level":"order"},{"label":"Staphylococcaceae","t":27.7,"r":406,"rot":27,"level":"order"},{"label":"Bacillaceae","t":19.3,"r":405,"rot":46,"level":"order"},{"label":"Clostridia","t":10.6,"r":425,"rot":0,"level":"class"},{"label":"Actinomycetia","t":4.4,"r":447,"rot":0,"level":"class"},{"label":"Deinococci","t":53.9,"r":430,"rot":57,"level":"class"},{"label":"Bacteroidia","t":56.3,"r":442,"rot":54,"level":"class"},{"label":"Chlamydiia","t":58.65,"r":457,"rot":48,"level":"class"},{"label":"Spirochaetia","t":61.4,"r":439,"rot":45,"level":"class"},{"label":"Epsilonproteobacteria","t":65.3,"r":498,"rot":36,"level":"class"},{"label":"Alphaproteobacteria","t":72.1,"r":482,"rot":20,"level":"class"},{"label":"Betaproteobacteria","t":79.6,"r":475,"rot":0,"level":"class"},{"label":"Pseudomonadales","t":94.9,"r":416,"rot":50,"level":"order"},{"label":"Enterobacterales","t":130,"r":414,"rot":-30,"level":"order"},{"label":"Gammaproteobacteria","t":114.1,"r":472,"rot":4,"level":"class"}
]
},
"hconcat":[
{"width":582,"height":1311,"layer":[
{"data":{"name":"species"},"mark":{"type":"bar","orient":"horizontal","size":7},"encoding":{
"x":{"field":"d","type":"quantitative","stack":null,"scale":{"domain":[-0.28196,0.2291],"nice":false,"zero":false,"padding":0},"axis":{"title":"difference in proportion","values":[-0.2,-0.1,0,0.1,0.2],"domain":false,"grid":false,"tickSize":5,"tickWidth":1.5,"tickColor":"#000","labelColor":"#000","titleColor":"#000","labelFontSize":33,"titleFontSize":34,"titleFontWeight":"normal","labelPadding":9,"titlePadding":16,"labelFlush":false,"labelExpr":"datum.value===0?'0':replace(format(datum.value,'.1f'),'-','–')","titleX":318}},
"y":{"field":"r","type":"quantitative","scale":{"domain":[147.62,-15.14],"nice":false,"zero":false,"padding":0},"axis":{"title":"species","labels":false,"ticks":false,"domain":false,"grid":false,"titleX":18,"titleY":716,"titleFontSize":33,"titleFontWeight":"normal","titleColor":"#000","titleBaseline":"middle","titleAlign":"center"}},
"color":{"field":"c","type":"nominal","scale":{"domain":["chromosome","plasmid"],"range":["#D55E00","#56B4E9"]},"legend":null}}},
{"data":{"name":"species"},"mark":{"type":"rule","color":"#000","strokeWidth":1.5},"encoding":{"x":{"field":"lo","type":"quantitative"},"x2":{"field":"hi"},"y":{"field":"r","type":"quantitative"}}},
{"data":{"name":"species"},"mark":{"type":"tick","orient":"vertical","color":"#000","size":6,"thickness":1.5},"encoding":{"x":{"field":"lo","type":"quantitative"},"y":{"field":"r","type":"quantitative"}}},
{"data":{"name":"species"},"mark":{"type":"tick","orient":"vertical","color":"#000","size":6,"thickness":1.5},"encoding":{"x":{"field":"hi","type":"quantitative"},"y":{"field":"r","type":"quantitative"}}},
{"data":{"values":[{"x":0,"y":0.55,"y2":146.5}]},"mark":{"type":"rule","color":"#000","strokeWidth":1.6,"strokeDash":[6.4,1.65]},"encoding":{"x":{"field":"x","type":"quantitative"},"y":{"field":"y","type":"quantitative"},"y2":{"field":"y2"}}},
{"data":{"values":[{"x":-0.2344,"y":0.38,"y2":147.62}]},"mark":{"type":"rule","color":"#000","strokeWidth":1.5},"encoding":{"x":{"field":"x","type":"quantitative"},"y":{"field":"y","type":"quantitative"},"y2":{"field":"y2"}}},
{"data":{"values":[{"x":-0.2344,"x2":0.229,"y":147.62}]},"mark":{"type":"rule","color":"#000","strokeWidth":1.5},"encoding":{"x":{"field":"x","type":"quantitative"},"x2":{"field":"x2"},"y":{"field":"y","type":"quantitative"}}},
{"data":{"values":[{"x":-0.2344,"x2":0.229,"y":-0.99}]},"mark":{"type":"rule","color":"#333","strokeWidth":1.5,"strokeDash":[9,4.5]},"encoding":{"x":{"field":"x","type":"quantitative"},"x2":{"field":"x2"},"y":{"field":"y","type":"quantitative"}}},
{"data":{"values":[{"from":-0.2247,"to":0,"y":-6.95,"c":"chromosome"},{"from":0,"to":0.2191,"y":-6.95,"c":"plasmid"}]},"mark":{"type":"rule","strokeWidth":5.5},"encoding":{"x":{"field":"from","type":"quantitative"},"x2":{"field":"to"},"y":{"field":"y","type":"quantitative"},"color":{"field":"c","type":"nominal"}}},
{"data":{"values":[{"tip":-0.2316,"y":-6.95,"c":"chromosome","s":"triangle-left"},{"tip":0.2261,"y":-6.95,"c":"plasmid","s":"triangle-right"}]},"mark":{"type":"point","filled":true,"size":289,"opacity":1},"encoding":{"x":{"field":"tip","type":"quantitative"},"y":{"field":"y","type":"quantitative"},"color":{"field":"c","type":"nominal"},"shape":{"field":"s","type":"nominal","scale":null}}},
{"data":{"values":[{"lo":-0.1198,"hi":-0.0135,"y":-2.97}]},"mark":{"type":"rule","color":"#000","strokeWidth":1.5},"encoding":{"x":{"field":"lo","type":"quantitative"},"x2":{"field":"hi"},"y":{"field":"y","type":"quantitative"}}},
{"data":{"values":[{"m":-0.066,"y":-2.97}]},"mark":{"type":"point","shape":"diamond","filled":true,"color":"#000","size":170,"opacity":1},"encoding":{"x":{"field":"m","type":"quantitative"},"y":{"field":"y","type":"quantitative"}}},
{"data":{"values":[{"label":"chromosome","x":-0.1168,"y":-10.05,"c":"chromosome"},{"label":"plasmid","x":0.1212,"y":-10.05,"c":"plasmid"}]},"mark":{"type":"text","fontSize":30,"baseline":"middle"},"encoding":{"x":{"field":"x","type":"quantitative"},"y":{"field":"y","type":"quantitative"},"text":{"field":"label"},"color":{"field":"c","type":"nominal"}}},
{"data":{"values":[{"label":"all species","x":0.0615,"y":-3.47}]},"mark":{"type":"text","fontSize":29.5,"baseline":"middle","color":"#000"},"encoding":{"x":{"field":"x","type":"quantitative"},"y":{"field":"y","type":"quantitative"},"text":{"field":"label"}}},
{"data":{"values":[{"label":"(","x":-0.2714,"y":-12.41},{"label":")","x":-0.2433,"y":-12.41}]},"mark":{"type":"text","fontSize":36,"baseline":"middle","color":"#000"},"encoding":{"x":{"field":"x","type":"quantitative"},"y":{"field":"y","type":"quantitative"},"text":{"field":"label"}}},
{"data":{"values":[{"label":"a","x":-0.2574,"y":-12.41}]},"mark":{"type":"text","fontSize":36,"fontStyle":"italic","baseline":"middle","color":"#000"},"encoding":{"x":{"field":"x","type":"quantitative"},"y":{"field":"y","type":"quantitative"},"text":{"field":"label"}}}
]},
{"width":1400,"height":1411,
"encoding":{"x":{"datum":0,"type":"quantitative","scale":{"domain":[-762,638],"nice":false,"zero":false},"axis":null},"y":{"datum":0,"type":"quantitative","scale":{"domain":[-753,658],"nice":false,"zero":false},"axis":null}},
"layer":[
{"data":{"name":"tips"},"mark":{"type":"arc","stroke":"#fff","strokeWidth":0.8},"encoding":{
"theta":{"field":"a","type":"quantitative","scale":{"domain":[0.5,146.5],"range":[1.5612,-4.2996]}},"theta2":{"field":"b"},
"radius":{"field":"o","type":"quantitative","scale":{"type":"linear","domain":[0,500],"range":[0,637.75]}},"radius2":{"datum":340},
"fill":{"field":"c","type":"nominal","scale":{"domain":["chromosome","plasmid"],"range":["#D55E00","#56B4E9"]},"legend":{"title":"overrepresented on:","orient":"none","legendX":635,"legendY":1203,"symbolType":"square","symbolSize":1369,"symbolStrokeWidth":0,"symbolOpacity":1,"titleFontSize":30,"labelFontSize":30,"titleFontWeight":"normal","titleColor":"#000","labelColor":"#000","titlePadding":13,"titleLimit":400,"labelLimit":300,"rowPadding":1,"labelOffset":13}}}},
{"data":{"name":"tree"},"mark":{"type":"arc","fillOpacity":0,"stroke":"#000","strokeWidth":1.7},"encoding":{
"theta":{"field":"n","type":"quantitative","scale":{"domain":[0.5,146.5],"range":[1.5612,-4.2996]}},"theta2":{"field":"n"},
"radius":{"field":"r","type":"quantitative","scale":{"type":"linear","domain":[0,500],"range":[0,637.75]}},"radius2":{"field":"p"}}},
{"data":{"name":"tree"},"transform":[{"filter":"isValid(datum.a)"}],"mark":{"type":"arc","fillOpacity":0,"stroke":"#000","strokeWidth":1.7},"encoding":{
"theta":{"field":"a","type":"quantitative","scale":{"domain":[0.5,146.5],"range":[1.5612,-4.2996]}},"theta2":{"field":"b"},
"radius":{"field":"r","type":"quantitative","scale":{"type":"linear","domain":[0,500],"range":[0,637.75]}},"radius2":{"field":"r"}}},
{"data":{"name":"clades"},"mark":{"type":"arc","fillOpacity":0,"strokeWidth":1.8},"encoding":{
"theta":{"field":"a","type":"quantitative","scale":{"domain":[0.5,146.5],"range":[1.5612,-4.2996]}},"theta2":{"field":"b"},
"radius":{"field":"r","type":"quantitative","scale":{"type":"linear","domain":[0,500],"range":[0,637.75]}},"radius2":{"field":"r"},
"stroke":{"field":"level","type":"nominal","scale":{"domain":["class","order"],"range":["#000000","#8c8c8c"]},"legend":null}}},
{"data":{"name":"labels"},"mark":{"type":"text","fontSize":25.5,"baseline":"middle","align":"center"},"encoding":{
"theta":{"field":"t","type":"quantitative","scale":{"domain":[0.5,146.5],"range":[1.5612,-4.2996]}},
"radius":{"field":"r","type":"quantitative","scale":{"type":"linear","domain":[0,500],"range":[0,637.75]}},
"text":{"field":"label"},"angle":{"field":"rot","type":"quantitative","scale":null},
"color":{"field":"level","type":"nominal","scale":{"domain":["class","order"],"range":["#000000","#8c8c8c"]},"legend":null}}},
{"data":{"values":[{"label":"(","t":60.53,"r":754.4},{"label":")","t":59.97,"r":735.7}]},"mark":{"type":"text","fontSize":36,"baseline":"middle","color":"#000"},"encoding":{
"theta":{"field":"t","type":"quantitative","scale":{"domain":[0.5,146.5],"range":[1.5612,-4.2996]}},
"radius":{"field":"r","type":"quantitative","scale":{"type":"linear","domain":[0,500],"range":[0,637.75]}},
"text":{"field":"label"}}},
{"data":{"values":[{"label":"b","t":60.23,"r":744.4}]},"mark":{"type":"text","fontSize":36,"fontStyle":"italic","baseline":"middle","color":"#000"},"encoding":{
"theta":{"field":"t","type":"quantitative","scale":{"domain":[0.5,146.5],"range":[1.5612,-4.2996]}},
"radius":{"field":"r","type":"quantitative","scale":{"type":"linear","domain":[0,500],"range":[0,637.75]}},
"text":{"field":"label"}}}
]}
]}
